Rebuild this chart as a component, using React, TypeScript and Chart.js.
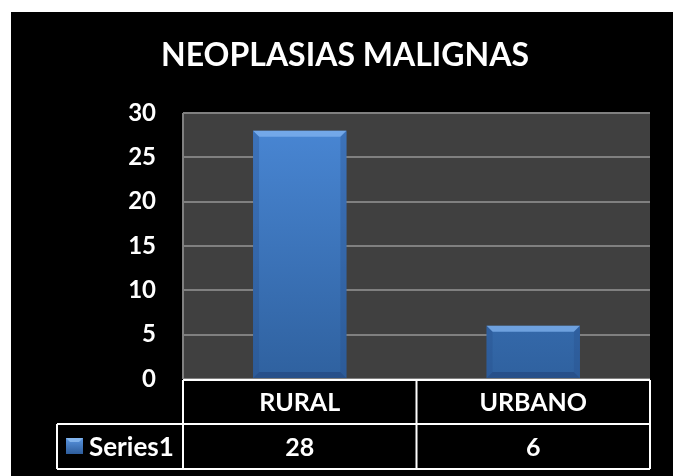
import React, { useEffect, useRef } from "react";
import { Chart, registerables } from "chart.js";

Chart.register(...registerables);

const categories = ["RURAL", "URBANO"];
const seriesName = "Series1";
const values = [28, 6];
const chartTitle = "NEOPLASIAS MALIGNAS";
const yMax = 30;
const yStep = 5;

const FONT = "Lato, 'Open Sans', sans-serif";

const decorPlugin = {
  id: "decor",
  beforeDraw(chart: any) {
    const { ctx, chartArea } = chart;
    ctx.save();
    ctx.fillStyle = "#ffffff";
    ctx.fillRect(0, 0, chart.width, chart.height);
    ctx.fillStyle = "#000000";
    ctx.fillRect(11, 12, chart.width - 11, chart.height - 12);
    ctx.fillStyle = "#404040";
    ctx.fillRect(chartArea.left, chartArea.top, chartArea.right - chartArea.left, chartArea.bottom - chartArea.top);
    ctx.fillStyle = "#ffffff";
    ctx.font = `bold 32px ${FONT}`;
    ctx.textAlign = "center";
    ctx.textBaseline = "alphabetic";
    ctx.fillText(chartTitle, 345, 66);
    ctx.restore();
  },
  afterDraw(chart: any) {
    const { ctx, chartArea, scales } = chart;
    const x = scales.x;
    const L = chartArea.left;
    const R = chartArea.right;
    const top = chartArea.bottom + 1;
    const mid = 424;
    const bot = 469;
    const legL = 57;
    ctx.save();
    ctx.strokeStyle = "#808080";
    ctx.lineWidth = 2;
    ctx.beginPath();
    ctx.moveTo(L, chartArea.top);
    ctx.lineTo(L, chartArea.bottom);
    ctx.stroke();
    ctx.strokeStyle = "#ffffff";
    ctx.lineWidth = 2;
    ctx.beginPath();
    ctx.moveTo(L, top); ctx.lineTo(R, top);
    ctx.moveTo(legL, mid); ctx.lineTo(R, mid);
    ctx.moveTo(legL, bot); ctx.lineTo(R, bot);
    ctx.moveTo(legL, mid); ctx.lineTo(legL, bot);
    ctx.moveTo(L, top); ctx.lineTo(L, bot);
    ctx.moveTo(R, top); ctx.lineTo(R, bot);
    const n = categories.length;
    const w = (R - L) / n;
    for (let i = 1; i < n; i++) {
      ctx.moveTo(L + w * i, top);
      ctx.lineTo(L + w * i, bot);
    }
    ctx.stroke();
    ctx.fillStyle = "#ffffff";
    ctx.font = `bold 25px ${FONT}`;
    ctx.textAlign = "center";
    ctx.textBaseline = "middle";
    categories.forEach((c, i) => {
      const cx = x.getPixelForValue(i);
      ctx.fillText(c, cx, (top + mid) / 2 + 1);
      ctx.fillText(String(values[i]), cx, (mid + bot) / 2 + 1);
    });
    // legend key with bevel
    const kx = 66, ky = 438, kw = 17, kh = 16;
    const g = ctx.createLinearGradient(0, ky, 0, ky + kh);
    g.addColorStop(0, "#5a95e0");
    g.addColorStop(1, "#2e5d9c");
    ctx.fillStyle = g;
    ctx.fillRect(kx, ky, kw, kh);
    ctx.fillStyle = "rgba(150,195,245,0.7)";
    ctx.beginPath();
    ctx.moveTo(kx, ky); ctx.lineTo(kx + kw, ky); ctx.lineTo(kx + kw - 4, ky + 4); ctx.lineTo(kx + 4, ky + 4); ctx.closePath();
    ctx.fill();
    ctx.fillStyle = "#ffffff";
    ctx.textAlign = "left";
    ctx.font = `bold 26px ${FONT}`;
    ctx.fillText(seriesName, 89, (mid + bot) / 2 + 1);
    ctx.restore();
  },
  afterDatasetsDraw(chart: any) {
    const { ctx } = chart;
    const meta = chart.getDatasetMeta(0);
    ctx.save();
    meta.data.forEach((bar: any) => {
      const p = bar.getProps(["x", "y", "base", "width"], true);
      const l = p.x - p.width / 2;
      const r = p.x + p.width / 2;
      const t = p.y;
      const b = p.base;
      const bv = 6;
      ctx.fillStyle = "rgba(130,180,240,0.75)";
      ctx.beginPath();
      ctx.moveTo(l, t); ctx.lineTo(r, t); ctx.lineTo(r - bv, t + bv); ctx.lineTo(l + bv, t + bv); ctx.closePath();
      ctx.fill();
      ctx.fillStyle = "rgba(30,60,110,0.45)";
      ctx.beginPath();
      ctx.moveTo(l, b); ctx.lineTo(r, b); ctx.lineTo(r - bv, b - bv); ctx.lineTo(l + bv, b - bv); ctx.closePath();
      ctx.fill();
      ctx.fillStyle = "rgba(40,80,140,0.35)";
      ctx.beginPath();
      ctx.moveTo(l, t); ctx.lineTo(l + bv, t + bv); ctx.lineTo(l + bv, b - bv); ctx.lineTo(l, b); ctx.closePath();
      ctx.fill();
      ctx.beginPath();
      ctx.moveTo(r, t); ctx.lineTo(r - bv, t + bv); ctx.lineTo(r - bv, b - bv); ctx.lineTo(r, b); ctx.closePath();
      ctx.fill();
    });
    ctx.restore();
  },
};

export default function App() {
  const ref = useRef<HTMLCanvasElement>(null);
  useEffect(() => {
    if (!ref.current) return;
    const chart = new Chart(ref.current, {
      type: "bar",
      data: {
        labels: categories,
        datasets: [
          {
            label: seriesName,
            data: values,
            backgroundColor: (c: any) => {
              const area = c.chart.chartArea;
              if (!area) return "#3b78c8";
              const g = c.chart.ctx.createLinearGradient(0, area.top, 0, area.bottom);
              g.addColorStop(0, "#4a88d6");
              g.addColorStop(1, "#2f619f");
              return g;
            },
            borderWidth: 0,
            categoryPercentage: 0.4,
            barPercentage: 1,
          },
        ],
      },
      options: {
        responsive: false,
        animation: false,
        layout: { padding: { left: 0, top: 113, right: 23, bottom: 97 } },
        plugins: {
          legend: { display: false },
          title: { display: false },
          tooltip: { enabled: false },
        },
        scales: {
          x: { display: false },
          y: {
            min: 0,
            max: yMax,
            ticks: {
              stepSize: yStep,
              color: "#ffffff",
              font: { family: FONT, size: 24, weight: "bold" },
              padding: 27,
            },
            grid: { color: "#808080", lineWidth: 2, drawTicks: false },
            border: { display: false },
            afterFit: (s: any) => {
              s.width = 183;
            },
          },
        },
      },
      plugins: [decorPlugin],
    });
    return () => chart.destroy();
  }, []);
  return (
    <div style={{ position: "fixed", left: 0, top: 0 }}>
      <canvas ref={ref} width={673} height={476} style={{ display: "block" }} />
    </div>
  );
}
